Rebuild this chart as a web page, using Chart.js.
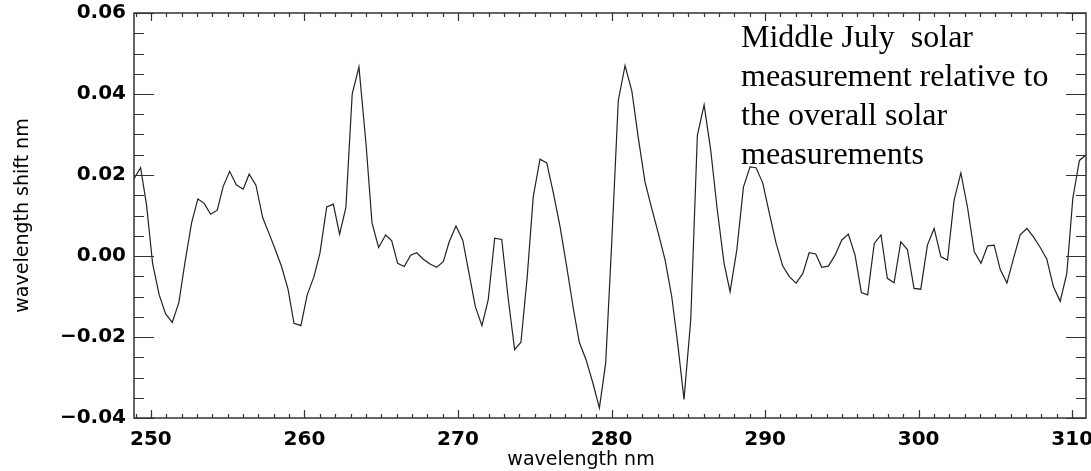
<!DOCTYPE html>
<html>
<head>
<meta charset="utf-8">
<script src="https://cdn.jsdelivr.net/npm/chart.js@4.4.0/dist/chart.umd.min.js"></script>
<style>
html,body{margin:0;padding:0;background:#fff;overflow:hidden;}
#c{display:block;}
</style>
</head>
<body>
<canvas id="c" width="1091" height="471"></canvas>
<script>
// ---- data ----
const wavelengths = [
248.9,249.33,249.72,250.11,250.54,250.96,251.39,251.82,252.21,252.65,253.06,253.47,253.89,254.32,254.71,255.13,255.56,256.01,256.40,256.84,257.28,257.71,258.10,258.51,258.93,259.32,
259.77,260.18,260.62,261.01,261.45,261.88,262.29,262.70,263.11,263.55,264.01,264.40,264.83,265.29,265.68,266.07,266.50,266.92,267.31,267.74,268.18,268.61,269.04,269.43,
269.87,270.31,270.72,271.13,271.56,271.97,272.39,272.85,273.28,273.69,274.10,274.51,274.90,275.34,275.78,276.21,276.65,277.08,277.51,277.90,278.34,278.78,279.21,279.62,280.01,
280.44,280.88,281.32,281.75,282.18,282.62,283.05,283.49,283.92,284.33,284.72,285.16,285.59,286.03,286.46,286.89,287.33,287.72,288.16,288.59,289.02,289.41,289.85,290.28,
290.72,291.15,291.58,292.02,292.46,292.87,293.30,293.69,294.12,294.56,294.99,295.42,295.86,296.27,296.68,297.11,297.55,297.96,298.40,298.84,299.27,299.70,300.14,300.57,301.01,
301.45,301.88,302.31,302.75,303.18,303.62,304.06,304.49,304.92,305.31,305.75,306.18,306.61,307.05,307.48,307.92,308.35,308.78,309.22,309.65,310.04,310.47,310.86
];
const shifts = [
0.0191,0.0218,0.0125,-0.0018,-0.0096,-0.0143,-0.0164,-0.0115,-0.0018,0.0082,0.0141,0.0130,0.0103,0.0113,0.0172,0.0209,0.0176,0.0165,0.0202,0.0175,0.0095,0.0054,0.0016,-0.0026,-0.0082,-0.0166,
-0.0172,-0.0096,-0.0051,0.0007,0.0121,0.0128,0.0054,0.0120,0.0400,0.0467,0.0277,0.0082,0.0021,0.0052,0.0038,-0.0018,-0.0026,0.0002,0.0008,-0.0008,-0.0020,-0.0028,-0.0014,0.0035,
0.0074,0.0039,-0.0043,-0.0125,-0.0172,-0.0108,0.0044,0.0041,-0.0108,-0.0231,-0.0213,-0.0051,0.0146,0.0239,0.0230,0.0156,0.0072,-0.0026,-0.0129,-0.0213,-0.0256,-0.0313,-0.0375,-0.0264,0.0031,
0.0384,0.0470,0.0408,0.0290,0.0183,0.0117,0.0056,-0.0010,-0.0100,-0.0223,-0.0354,-0.0157,0.0298,0.0373,0.0261,0.0113,-0.0018,-0.0088,0.0015,0.0170,0.0220,0.0218,0.0180,0.0105,
0.0031,-0.0025,-0.0051,-0.0067,-0.0043,0.0008,0.0005,-0.0028,-0.0025,0.0002,0.0039,0.0054,0.0002,-0.0090,-0.0096,0.0031,0.0052,-0.0055,-0.0066,0.0035,0.0016,-0.0080,-0.0082,0.0027,0.0068,
-0.0002,-0.0010,0.0138,0.0205,0.0121,0.0011,-0.0018,0.0025,0.0027,-0.0033,-0.0067,-0.0006,0.0052,0.0068,0.0047,0.0021,-0.0008,-0.0076,-0.0112,-0.0043,0.0142,0.0236,0.0248
];
const xTickValues = [250, 260, 270, 280, 290, 300, 310];
const yTickValues = [-0.04, -0.02, 0.00, 0.02, 0.04, 0.06];
const xMinorStep = 1;
const yMinorStep = 0.005;
const xTitle = 'wavelength nm';
const yTitle = 'wavelength shift nm';
const noteLines = ['Middle July  solar', 'measurement relative to', 'the overall solar', 'measurements'];

const points = wavelengths.map((w, i) => ({x: w, y: shifts[i]}));

function fmtY(v) {
  const s = Math.abs(v).toFixed(2);
  return (v < -1e-9 ? '\u2212' : '') + s;
}

const frameTicks = {
  id: 'frameTicks',
  afterDraw(chart) {
    const {ctx, chartArea: {left, top, right, bottom}, scales: {x, y}} = chart;
    ctx.save();
    ctx.strokeStyle = '#333';
    ctx.lineWidth = 1.5;
    ctx.strokeRect(left, top, right - left, bottom - top);
    ctx.lineWidth = 1.2;
    ctx.beginPath();
    for (let v = Math.ceil(x.min); v <= x.max + 1e-9; v += xMinorStep) {
      const px = Math.round(x.getPixelForValue(v)) + 0.5;
      const major = xTickValues.includes(v);
      const len = major ? 8 : 4;
      ctx.moveTo(px, bottom); ctx.lineTo(px, bottom - len);
      ctx.moveTo(px, top); ctx.lineTo(px, top + len);
    }
    const kStart = Math.ceil(y.min / yMinorStep - 1e-9);
    const kEnd = Math.floor(y.max / yMinorStep + 1e-9);
    for (let k = kStart; k <= kEnd; k++) {
      const v = k * yMinorStep;
      const py = Math.round(y.getPixelForValue(v)) + 0.5;
      const major = (k % 4 === 0);
      const len = major ? 20 : 10;
      ctx.moveTo(left, py); ctx.lineTo(left + len, py);
      ctx.moveTo(right, py); ctx.lineTo(right - len, py);
    }
    ctx.stroke();

    ctx.fillStyle = '#000';
    ctx.font = '19px "DejaVu Sans"';
    ctx.textAlign = 'center';
    ctx.textBaseline = 'middle';
    ctx.fillText(xTitle, 581, 460);

    ctx.font = '32px "Liberation Serif"';
    ctx.textAlign = 'left';
    ctx.textBaseline = 'alphabetic';
    const baselines = [47, 86, 125, 164];
    noteLines.forEach((t, i) => ctx.fillText(t, 741, baselines[i]));
    ctx.restore();
  }
};

new Chart(document.getElementById('c'), {
  type: 'line',
  data: {
    datasets: [{
      data: points,
      borderColor: '#222',
      borderWidth: 1.2,
      pointRadius: 0,
      tension: 0,
      fill: false
    }]
  },
  options: {
    responsive: false,
    animation: false,
    devicePixelRatio: 1,
    parsing: false,
    layout: {padding: {top: 13, right: 5, left: 0, bottom: 0}},
    plugins: {legend: {display: false}, tooltip: {enabled: false}},
    scales: {
      x: {
        type: 'linear',
        min: 248.9,
        max: 310.9,
        grid: {display: false},
        border: {display: false},
        afterBuildTicks(s) { s.ticks = xTickValues.map(v => ({value: v})); },
        afterFit(s) { s.height = 53; s.paddingLeft = 0; s.paddingRight = 0; },
        ticks: {
          padding: 2,
          maxRotation: 0,
          autoSkip: false,
          color: '#000',
          font: {family: 'DejaVu Sans', size: 20, weight: 'bold'},
          callback: v => String(v)
        }
      },
      y: {
        type: 'linear',
        min: -0.04,
        max: 0.06,
        grid: {display: false},
        border: {display: false},
        afterBuildTicks(s) { s.ticks = yTickValues.map(v => ({value: v})); },
        afterFit(s) { s.width = 134; s.paddingTop = 0; s.paddingBottom = 0; },
        title: {
          display: true,
          text: yTitle,
          color: '#000',
          font: {family: 'DejaVu Sans', size: 19},
          padding: {top: 12, bottom: 0}
        },
        ticks: {
          padding: 0,
          autoSkip: false,
          color: '#000',
          font: {family: 'DejaVu Sans', size: 20, weight: 'bold'},
          callback: v => fmtY(v)
        }
      }
    }
  },
  plugins: [frameTicks]
});
</script>
</body>
</html>
